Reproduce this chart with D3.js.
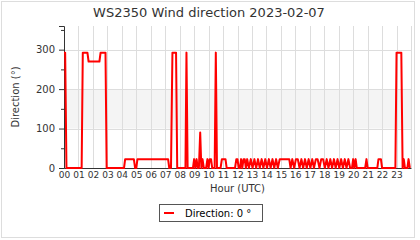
<!DOCTYPE html>
<html><head><meta charset="utf-8">
<script src="https://cdn.jsdelivr.net/npm/d3@7"></script>
<style>body{margin:0;background:#fff}svg{display:block;font-family:"DejaVu Sans",sans-serif}</style>
</head><body><svg id="c" width="420" height="240"></svg>
<script>
const title = "WS2350 Wind direction 2023-02-07";
const hourLabels = ["00","01","02","03","04","05","06","07","08","09","10","11","12","13","14","15","16","17","18","19","20","21","22","23"];
const yTicks = [0,100,200,300];
const yMinor = [50,150,250,350];
const times = [
  0.00,0.08,0.17,1.22,1.30,1.62,1.70,2.45,2.53,2.87,2.95,
  4.15,4.23,4.83,4.92,5.00,5.08,7.20,7.28,7.40,7.50,7.75,7.83,
  8.40,8.47,8.55,8.92,9.00,9.08,9.17,9.25,9.33,9.42,9.50,
  9.58,9.67,9.83,9.92,10.00,10.08,10.17,10.25,10.42,10.50,10.58,
  10.83,10.92,11.17,11.25,11.83,11.92,12.00,12.08,12.17,12.25,12.33,
  12.42,12.50,12.58,12.67,12.79,12.92,13.04,13.17,13.29,13.42,13.54,
  13.67,13.79,13.92,14.04,14.17,14.29,14.42,14.54,14.67,14.79,14.92,
  15.58,15.67,15.79,15.92,16.04,16.17,16.29,16.42,16.54,16.67,16.79,
  16.92,17.04,17.17,17.29,17.42,17.54,17.67,17.79,17.92,18.04,18.17,
  18.29,18.42,18.54,18.67,18.79,18.92,19.04,19.17,19.29,19.42,19.54,
  19.67,19.79,19.92,20.00,20.08,20.17,20.25,20.83,20.92,21.00,
  21.67,21.75,21.92,22.00,22.92,23.00,23.33,23.42,23.50,23.58,23.75,23.83,23.92
];
const dirs = [
  292.5,292.5,0,0,292.5,292.5,270,270,292.5,292.5,0,
  0,22.5,22.5,0,0,22.5,22.5,0,0,292.5,292.5,0,
  0,292.5,0,0,22.5,0,22.5,0,0,90,0,
  22.5,0,0,22.5,0,22.5,22.5,0,0,292.5,0,
  0,22.5,22.5,0,0,22.5,22.5,0,0,22.5,0,
  22.5,22.5,0,22.5,0,22.5,0,22.5,0,22.5,0,
  22.5,0,22.5,0,22.5,0,22.5,0,22.5,0,22.5,
  22.5,0,22.5,0,22.5,22.5,0,22.5,0,22.5,0,
  22.5,0,22.5,0,22.5,22.5,0,22.5,22.5,0,22.5,
  0,22.5,0,22.5,0,22.5,0,22.5,0,22.5,0,
  22.5,0,0,22.5,0,22.5,0,0,22.5,0,
  0,22.5,22.5,0,0,292.5,292.5,0,22.5,0,0,22.5,0
];
const legendLabel = "Direction: 0 °";

const svg = d3.select("#c");
const W = 420, H = 240;
const m = {l:64, r:9, t:26, b:72};
const x = d3.scaleLinear().domain([0,24]).range([m.l, W - m.r]);
const y = d3.scaleLinear().domain([0,360]).range([H - m.b, m.t]);

svg.append("rect").attr("x",1.5).attr("y",1.5).attr("width",413).attr("height",236).attr("fill","#fff").attr("stroke","#ddd");

svg.append("rect").attr("x",x(0)).attr("width",x(24)-x(0)).attr("y",y(200)).attr("height",y(100)-y(200)).attr("fill","#f4f4f4");

const g = svg.append("g");
g.selectAll(".vg").data(d3.range(1,25)).join("line")
  .attr("x1",d=>Math.round(x(d))+0.5).attr("x2",d=>Math.round(x(d))+0.5)
  .attr("y1",y(360)).attr("y2",y(0)).attr("stroke","#ddd");
g.selectAll(".hg").data([100,200,300]).join("line")
  .attr("x1",x(0)).attr("x2",x(24)).attr("y1",d=>Math.round(y(d))+0.5).attr("y2",d=>Math.round(y(d))+0.5).attr("stroke","#ddd");

const yAxis = d3.axisLeft(y).tickValues(yTicks).tickSize(5).tickPadding(4);
const ya = svg.append("g").attr("transform",`translate(${m.l},0)`).call(yAxis);
ya.selectAll("text").attr("font-size",10).attr("fill","#333").attr("font-family","DejaVu Sans");
ya.select(".domain").attr("stroke","#333");
ya.selectAll(".tick line").attr("stroke","#333");
const yMinorAxis = d3.axisLeft(y).tickValues(yMinor).tickSize(3).tickFormat("");
const ym = svg.append("g").attr("transform",`translate(${m.l},0)`).call(yMinorAxis);
ym.select(".domain").remove();
ym.selectAll(".tick line").attr("stroke","#333");

const xAxis = d3.axisBottom(x).tickValues(d3.range(0,24)).tickFormat((d,i)=>hourLabels[i]).tickSize(0).tickPadding(4);
const xa = svg.append("g").attr("transform",`translate(0,${H-m.b})`).call(xAxis);
xa.selectAll("text").attr("font-size",9).attr("fill","#333").attr("font-family","DejaVu Sans");
xa.select(".domain").attr("stroke","#333");

const line = d3.line().x(d=>x(d[0])).y(d=>y(d[1]));
svg.append("path").datum(times.map((t,i)=>[t,dirs[i]]))
  .attr("d",line).attr("fill","none").attr("stroke","#ff0000").attr("stroke-width",2).attr("stroke-linejoin","round");

svg.append("text").attr("x",209).attr("y",17).attr("text-anchor","middle").attr("font-size",13).attr("fill","#333").text(title);
svg.append("text").attr("transform",`translate(18.5,${(y(0)+y(360))/2}) rotate(-90)`).attr("text-anchor","middle").attr("font-size",10).attr("fill","#333").text("Direction (°)");
svg.append("text").attr("x",(x(0)+x(24))/2).attr("y",192).attr("text-anchor","middle").attr("font-size",10).attr("fill","#333").text("Hour (UTC)");

const lg = svg.append("g");
lg.append("rect").attr("x",159.5).attr("y",204.5).attr("width",103).attr("height",17).attr("fill","#fff").attr("stroke","#555");
lg.append("line").attr("x1",164).attr("x2",174).attr("y1",213).attr("y2",213).attr("stroke","#ff0000").attr("stroke-width",2);
lg.append("text").attr("x",185).attr("y",216.5).attr("font-size",10).attr("fill","#000").text(legendLabel);
</script></body></html>
